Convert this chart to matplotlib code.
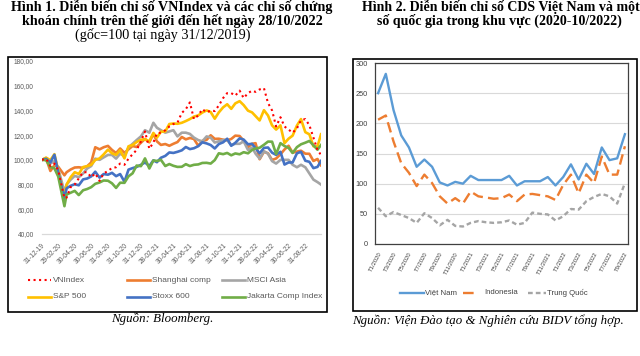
import matplotlib
matplotlib.use('Agg')
import matplotlib.pyplot as plt
from matplotlib.patches import Rectangle
from matplotlib.lines import Line2D
import pandas as pd

# ---------------- data: Hinh 1 (base 100 at 31/12/2019) ----------------
dates = pd.to_datetime([
    '2019-12-31',
    '2020-01-15', '2020-01-31', '2020-02-15', '2020-02-29', '2020-03-23', '2020-03-31',
    '2020-04-15', '2020-04-30', '2020-05-15', '2020-05-31', '2020-06-15', '2020-06-30',
    '2020-07-15', '2020-07-31', '2020-08-15', '2020-08-31', '2020-09-15', '2020-09-30',
    '2020-10-15', '2020-10-31', '2020-11-15', '2020-11-30', '2020-12-15', '2020-12-31',
    '2021-01-15', '2021-01-31', '2021-02-15', '2021-02-28', '2021-03-15', '2021-03-31',
    '2021-04-15', '2021-04-30', '2021-05-15', '2021-05-31', '2021-06-15', '2021-06-30',
    '2021-07-15', '2021-07-31', '2021-08-15', '2021-08-31', '2021-09-15', '2021-09-30',
    '2021-10-15', '2021-10-31', '2021-11-15', '2021-11-30', '2021-12-15', '2021-12-31',
    '2022-01-15', '2022-01-31', '2022-02-15', '2022-02-28', '2022-03-15', '2022-03-31',
    '2022-04-15', '2022-04-30', '2022-05-15', '2022-05-31', '2022-06-15', '2022-06-30',
    '2022-07-15', '2022-07-31', '2022-08-15', '2022-08-31', '2022-09-15', '2022-09-30',
    '2022-10-15', '2022-10-28'])

vnindex = [100, 101, 95, 97, 91.5, 69, 69.5, 78, 80, 85, 90, 90, 86, 89, 83, 89, 91,
           93.5, 94, 97, 96, 101, 104.5, 108, 115, 123, 109, 114, 121.5, 122, 124, 127,
           129, 130, 138, 141, 146.5, 133, 136, 141, 138.5, 140, 139.5, 144, 150, 154,
           154, 152, 156, 150, 154, 156, 155, 157, 158, 146, 140, 127, 134.5, 127, 124.5,
           122, 125.5, 132, 133, 128, 118, 108, 104]
shanghai = [100, 101.3, 91, 95.6, 94.4, 87.5, 90, 92.2, 93.8, 94, 93.5, 94.8, 97.9,
            110.2, 108.5, 110.2, 111.3, 108, 105.5, 109.2, 105.7, 108.5, 111.2, 110.4,
            113.9, 116.9, 114.2, 121, 115, 112.1, 112.8, 111.4, 113, 114.4, 118.5, 116.6,
            117.7, 116.9, 111.4, 115.3, 116.2, 119.9, 117, 117.1, 116.3, 115.8, 116.9,
            119.6, 119.3, 115.4, 110.2, 113, 113.5, 100.5, 106.6, 105.3, 99.9, 101.1,
            104.5, 108.4, 111.4, 105.8, 106.7, 107.4, 105, 104.9, 99.1, 100.7, 95.6]
msci_asia = [100, 101.5, 97, 99, 93, 74, 80, 84, 87, 86, 89, 93, 95, 101, 100, 102, 104,
             104, 101, 105, 103, 110, 113, 116, 119, 124, 122, 130, 126, 124, 122, 123,
             124, 119, 122, 122, 121, 118, 116, 115, 119, 118, 114, 115, 116, 116, 112,
             113, 113, 115, 108, 110, 105, 101, 107, 105, 99, 97, 100, 100, 100, 96, 94,
             96, 94, 89, 84, 82, 80]
sp500 = [100, 101.8, 99.8, 104.6, 91.4, 69.2, 80, 86, 90, 88.6, 94.2, 94.9, 96, 99.9,
         101.2, 104.4, 108.3, 105.3, 104, 107.8, 101.2, 111, 112, 114.4, 116.3, 116.6,
         115, 121.8, 118, 122.8, 123, 129, 129.4, 129.2, 130, 131.4, 133, 135, 136,
         138.3, 140, 138.7, 133.3, 138.4, 142.5, 145, 141.3, 145.7, 147.5, 144.3, 139.8,
         138.4, 135.4, 131.9, 140.2, 135.9, 127.9, 124.5, 127.9, 113.5, 117.1, 119.6,
         127.8, 133, 122.4, 120.7, 111, 110.9, 120.7]
stoxx600 = [100, 100.8, 97.9, 104.1, 90, 68.5, 77, 79, 80.3, 79.4, 84.2, 84.9, 86.6,
            90.4, 85.6, 88.5, 88, 89.5, 86.8, 88.5, 82.3, 92.1, 93.3, 94.3, 96, 97.9, 95,
            99.6, 98.1, 101.7, 103.2, 106, 105.6, 106.5, 107.7, 110.4, 108.7, 109.4,
            111.1, 114.2, 113.3, 112, 109.2, 112.8, 114.2, 117.1, 111.4, 113.8, 117.4,
            116.4, 112.6, 113, 109.4, 105.3, 109.7, 110, 105.8, 104, 106.5, 96.2, 97.9,
            97.9, 105.3, 106.5, 99.3, 98.4, 93.3, 94.3, 99.1]
jakarta = [100, 99.7, 94.3, 93.1, 86.5, 62.5, 72, 73.4, 74.9, 71.5, 75.4, 76.4, 77.9,
           80.6, 81.7, 83.3, 83.1, 81, 77.3, 81.5, 81.4, 86.7, 89.1, 95.4, 94.9, 101.2,
           93, 99.5, 99.1, 100, 95, 96.6, 95.2, 94.3, 94.4, 96.5, 95, 96, 96.3, 97.5,
           97.6, 97, 99.8, 105.3, 104.6, 105.6, 103.7, 105.2, 104.5, 106.2, 105.3, 108,
           109.3, 109.8, 112.2, 114.8, 114.7, 104.7, 113.5, 111.2, 109.7, 105.6, 110.3,
           112.6, 113.9, 115.3, 111.8, 108.2, 112]

date_ticks = ['31-12-19', '29-02-20', '30-04-20', '30-06-20', '31-08-20', '31-10-20',
              '31-12-20', '28-02-21', '30-04-21', '30-06-21', '31-08-21', '31-10-21',
              '31-12-21', '28-02-22', '30-04-22', '30-06-22', '31-08-22']

# ---------------- data: Hinh 2 (CDS) ----------------
months = ['T1/2020', 'T2/2020', 'T3/2020', 'T4/2020', 'T5/2020', 'T6/2020', 'T7/2020',
          'T8/2020', 'T9/2020', 'T10/2020', 'T11/2020', 'T12/2020', 'T1/2021', 'T2/2021',
          'T3/2021', 'T4/2021', 'T5/2021', 'T6/2021', 'T7/2021', 'T8/2021', 'T9/2021',
          'T10/2021', 'T11/2021', 'T12/2021', 'T1/2022', 'T2/2022', 'T3/2022', 'T4/2022',
          'T5/2022', 'T6/2022', 'T7/2022', 'T8/2022', 'T9/2022']
cds_vn = [250, 282, 222, 180, 160, 128, 140, 128, 102, 97, 103, 100, 113, 106, 106, 106,
          106, 113, 97, 104, 104, 104, 111, 97, 111, 132, 107, 133, 116, 160, 139, 142, 182]
cds_indo = [206, 213, 170, 134, 118, 96, 115, 101, 79, 67, 76, 67, 87, 79, 77, 75, 76,
            82, 71, 82, 83, 81, 79, 73, 98, 115, 84, 115, 101, 145, 115, 115, 162]
cds_cn = [60, 46, 53, 48, 43, 35, 51, 43, 31, 40, 30, 29, 35, 38, 36, 35, 36, 39, 32,
          35, 52, 50, 49, 39, 46, 58, 57, 71, 78, 83, 79, 67, 101]

W, H = 640, 356


def box(x0, y0, x1, y1):
    # pixel box (top-left origin) -> figure fraction rect
    return [x0 / W, 1 - y1 / H, (x1 - x0) / W, (y1 - y0) / H]


def fx(x):
    return x / W


def fy(y):
    return 1 - y / H


serif = ['Liberation Serif', 'DejaVu Serif']
sans = ['Liberation Sans', 'DejaVu Sans']
narrow = ['Liberation Sans Narrow', 'Liberation Sans', 'DejaVu Sans']

fig = plt.figure(figsize=(6.4, 3.56), dpi=100)

# titles
fig.text(fx(172), fy(7), 'Hình 1. Diễn biến chỉ số VNIndex và các chỉ số chứng',
         ha='center', va='center', fontsize=10.2, fontweight='bold', family=serif)
fig.text(fx(172), fy(21), 'khoán chính trên thế giới đến hết ngày 28/10/2022',
         ha='center', va='center', fontsize=10.2, fontweight='bold', family=serif)
fig.text(fx(163), fy(35), '(gốc=100 tại ngày 31/12/2019)',
         ha='center', va='center', fontsize=10.2, family=serif)
fig.text(fx(501), fy(7), 'Hình 2. Diễn biến chỉ số CDS Việt Nam và một',
         ha='center', va='center', fontsize=10.1, fontweight='bold', family=serif)
fig.text(fx(499), fy(21), 'số quốc gia trong khu vực (2020-10/2022)',
         ha='center', va='center', fontsize=10.1, fontweight='bold', family=serif)

# chart frames
fig.add_artist(Rectangle((fx(8), fy(312)), (327 - 8) / W, (312 - 57) / H,
                         transform=fig.transFigure, fill=False, lw=1.2, ec='black'))
fig.add_artist(Rectangle((fx(353), fy(311)), (637 - 353) / W, (311 - 59) / H,
                         transform=fig.transFigure, fill=False, lw=1.2, ec='black'))

# ---------------- left chart ----------------
ax1 = fig.add_axes(box(42, 61, 321, 234))
series = [
    ('VNIndex', vnindex, '#FF0000', ':'),
    ('Shanghai comp', shanghai, '#ED7D31', '-'),
    ('MSCI Asia', msci_asia, '#A5A5A5', '-'),
    ('S&P 500', sp500, '#FFC000', '-'),
    ('Stoxx 600', stoxx600, '#4472C4', '-'),
    ('Jakarta Comp Index', jakarta, '#70AD47', '-'),
]
for i, (name, vals, col, ls) in enumerate(series):
    if ls == ':':
        ax1.plot(dates, vals, color=col, ls=ls, lw=1.5, zorder=10)
    else:
        ax1.plot(dates, vals, color=col, ls=ls, lw=1.9, zorder=3 + i)

ax1.set_ylim(40, 180)
ax1.set_yticks(range(40, 181, 20))
ax1.set_yticklabels([f'{v},00' for v in range(40, 181, 20)])
ax1.set_xlim(dates[0], dates[-1])
tick_pos = pd.to_datetime(date_ticks, format='%d-%m-%y')
ax1.set_xticks(tick_pos)
ax1.set_xticklabels(date_ticks, rotation=45, ha='right', rotation_mode='anchor')
ax1.tick_params(axis='both', length=0, labelsize=4.7, labelcolor='#595959')
ax1.tick_params(axis='y', pad=6)
ax1.tick_params(axis='x', pad=6)
for lab in ax1.get_xticklabels() + ax1.get_yticklabels():
    lab.set_family(sans)
for s in ['top', 'right', 'left']:
    ax1.spines[s].set_visible(False)
ax1.spines['bottom'].set_color('#D9D9D9')
ax1.spines['bottom'].set_linewidth(0.9)
ax1.patch.set_alpha(0)

# left legend (3 columns x 2 rows)
leg_cols = [28, 127, 222]
leg_rows = [280, 297]
for k, (name, vals, col, ls) in enumerate(series):
    cx = leg_cols[k % 3]
    cy = leg_rows[k // 3]
    fig.add_artist(Line2D([fx(cx), fx(cx + 23)], [fy(cy), fy(cy)], color=col, ls=ls,
                          lw=1.5 if ls == ':' else 1.9, transform=fig.transFigure))
    fig.text(fx(cx + 25), fy(cy), name, ha='left', va='center', fontsize=6,
             color='#595959', family=sans)

fig.text(fx(162), fy(319), 'Nguồn: Bloomberg.', ha='center', va='center',
         fontsize=9.3, style='italic', family=serif)

# ---------------- right chart ----------------
ax2 = fig.add_axes(box(375, 63, 628, 244))
xs = list(range(len(cds_vn)))
ax2.plot(xs, cds_vn, color='#5B9BD5', lw=1.7, zorder=5)
ax2.plot(xs, cds_indo, color='#ED7D31', lw=1.7, dashes=(4.5, 2.2), zorder=4)
ax2.plot(xs, cds_cn, color='#A5A5A5', lw=1.7, dashes=(2, 1.3), zorder=3)
ax2.set_ylim(0, 300)
ax2.set_yticks(range(0, 301, 50))
ax2.set_xlim(-0.4, len(cds_vn) - 1 + 0.4)
ax2.set_xticks(range(0, len(months), 2))
ax2.set_xticklabels(months[0::2], rotation=62, ha='right', rotation_mode='anchor')
ax2.grid(axis='y', color='#D9D9D9', lw=0.8)
ax2.set_axisbelow(True)
ax2.tick_params(axis='both', length=0, labelcolor='#404040')
ax2.tick_params(axis='y', labelsize=5.3, pad=5)
ax2.tick_params(axis='x', labelsize=4.2, pad=5)
for lab in ax2.get_xticklabels() + ax2.get_yticklabels():
    lab.set_family(narrow)
for s in ax2.spines.values():
    s.set_color('#404040')
    s.set_linewidth(0.9)

# right legend (one row)
leg2 = [('Việt Nam', '#5B9BD5', None, 400, 24), ('Indonesia', '#ED7D31', (4.5, 2.2), 463, 15),
        ('Trung Quốc', '#A5A5A5', (2, 1.3), 528, 18)]
for name, col, dash, cx, ln_w in leg2:
    ln = Line2D([fx(cx), fx(cx + ln_w)], [fy(293), fy(293)], color=col, lw=1.7,
                transform=fig.transFigure)
    if dash:
        ln.set_dashes(dash)
    fig.add_artist(ln)
    gap = 1 if dash is None else (6 if cx == 463 else 1)
    fig.text(fx(cx + ln_w + gap), fy(293), name, ha='left', va='center', fontsize=5.6,
             color='#404040', family=narrow)

fig.text(fx(352), fy(321), 'Nguồn: Viện Đào tạo & Nghiên cứu BIDV tổng hợp.',
         ha='left', va='center', fontsize=9.3, style='italic', family=serif)

fig.savefig('out.png', dpi=100)
